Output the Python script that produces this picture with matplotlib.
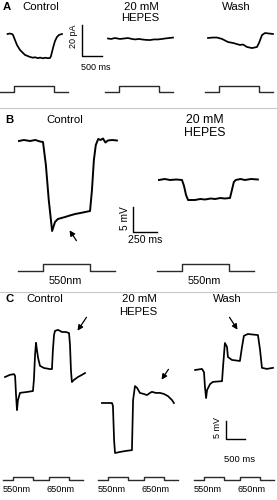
import numpy as np
import matplotlib.pyplot as plt

plt.rcParams['font.family'] = ['Liberation Sans', 'DejaVu Sans']

W, H = 277, 500  # canvas size in px

# ---- A: light-evoked current (pA), time in ms from light onset
a_t_ctrl = [-160, -110, -50, -25, 25, 75, 150, 275, 400, 475, 525, 600, 650, 725, 775, 850, 900, 925, 975, 1025, 1075, 1125, 1200]
a_i_ctrl = [0, 0.3, 0, -0.6, -3.9, -7.1, -10.3, -13.5, -14.8, -15.3, -15.0, -15.6, -15.2, -15.7, -15.3, -15.6, -15.5, -14.2, -9.0, -4.5, -1.9, -0.6, 0]
a_t_hep = [-275, -200, -100, 25, 125, 225, 325, 400, 500, 575, 675, 775, 875, 975, 1075, 1150, 1250, 1350]
a_i_hep = [0, -0.3, 0.3, -0.3, 0, 0.3, -0.3, -0.6, -0.3, -0.6, -0.9, -1.0, -0.6, -0.6, -0.3, 0, 0.3, 0.6]
a_t_wash = [-275, -150, -50, 75, 225, 350, 525, 600, 700, 825, 950, 1000, 1075, 1150, 1250, 1350]
a_i_wash = [0, 0.3, 0.3, -0.6, -2.6, -3.2, -4.5, -4.2, -5.8, -6.5, -5.8, -3.2, 1.9, 3.2, 2.9, 2.6]
a_stim_t = [-350, 0, 0, 1000, 1000, 1350]
a_stim_on = [0, 0, 1, 1, 0, 0]

# ---- B: light response (mV), 550 nm step
b_t_ctrl = [-250, -200, -135, -80, -30, 0, 30, 60, 95, 125, 155, 230, 280, 335, 390, 440, 490, 510, 530, 550, 575, 600, 625, 650, 675, 720, 770]
b_v_ctrl = [0, 0.2, 0, 0.2, -0.1, -0.2, -4.8, -11.8, -18.0, -16.2, -15.6, -15.2, -14.9, -14.6, -14.4, -14.2, -14.0, -9.8, -3.8, -0.8, 0.4, 0.2, 0.5, -0.3, 0.1, 0.2, 0.1]
b_t_hep = [-240, -180, -125, -60, 0, 21, 42, 63, 135, 190, 240, 300, 345, 400, 445, 500, 520, 540, 560, 610, 655, 720, 790]
b_v_hep = [0, 0.2, 0, 0.1, 0, -1.2, -3.0, -4.0, -4.0, -3.8, -3.9, -3.7, -3.8, -3.6, -3.7, -3.6, -2.0, -0.4, 0, 0.2, 0, 0.2, 0.1]
b_stim_t = [-260, 0, 0, 490, 490, 750]
b_stim_on = [0, 0, 1, 1, 0, 0]

# ---- C: 550 nm then 650 nm pulses (mV)
c_t_ctrl = [-210, -80, 25, 55, 80, 105, 130, 185, 340, 525, 550, 580, 605, 630, 660, 710, 815, 975, 1025,
            1050, 1080, 1105, 1185, 1290, 1395, 1475, 1500, 1525, 1550, 1605, 1710, 1815, 1895]
c_v_ctrl = [0, 0.6, 0.8, 0.3, -5.0, -9.2, -6.4, -4.4, -4.2, -3.9, -0.8, 6.1, 9.5, 7.5, 5.3, 3.1, 2.5, 2.2, 2.2,
            7.5, 11.7, 12.8, 13.1, 12.5, 12.5, 12.2, 8.9, 1.9, -1.4, -0.8, 0, 0.6, 1.1]
c_t_hep = [-160, -25, 105, 130, 160, 185, 315, 475, 630, 660, 710, 765, 840, 945, 1025, 1105, 1155, 1260,
           1370, 1475, 1580, 1685, 1735]
c_v_hep = [0, 0, 0, -0.8, -10.3, -13.9, -13.6, -13.3, -13.1, 0.8, 4.7, 4.2, 2.8, 2.5, 2.2, 2.8, 3.1, 2.8,
           2.8, 2.5, 1.9, 0.8, 0]
c_t_wash = [-235, -55, 0, 25, 55, 80, 160, 235, 475, 500, 550, 605, 630, 735, 945, 1000, 1050, 1155, 1420,
            1475, 1525, 1655, 1815]
c_v_wash = [0, 0.3, -0.6, -4.7, -7.8, -5.6, -3.9, -3.3, -3.1, 0.8, 7.5, 6.4, 3.6, 2.8, 2.5, 6.4, 9.5, 10.0, 9.7,
            5.6, 0.6, 0.3, 0.6]
c_stim_t = [-265, 0, 0, 525, 525, 950, 950, 1475, 1475, 1840]
c_stim_on = [0, 0, 1, 1, 0, 0, 1, 1, 0, 0]
c_pulse_names = ['550nm', '650nm']
c_pulse_mid = [100, 1250]

fig = plt.figure(figsize=(W / 100, H / 100), dpi=100)

# overlay in pixel coordinates for labels, separators and arrows
lay = fig.add_axes([0, 0, 1, 1])
lay.set_xlim(0, W)
lay.set_ylim(H, 0)
lay.axis('off')


def row_axes(ms_per_px, unit_per_px):
    ax = fig.add_axes([0, 0, 1, 1])
    ax.set_xlim(0, W * ms_per_px)
    ax.set_ylim(0, H * unit_per_px)
    ax.axis('off')
    ax.patch.set_alpha(0)
    ax.mspp, ax.upp = ms_per_px, unit_per_px
    return ax


def trace(ax, x0, y0, t, v, lw=1.25):
    ax.plot(np.asarray(t) + x0 * ax.mspp, np.asarray(v) + (H - y0) * ax.upp,
            color='black', lw=lw, solid_joinstyle='round')


def stim(ax, x0, y0, h, t, on):
    ax.plot(np.asarray(t) + x0 * ax.mspp, (H - y0) * ax.upp + np.asarray(on) * h * ax.upp,
            color='#2a2a2a', lw=1.0)


def scalebar(ax, x0, y0, dt, dv):
    bx, by = x0 * ax.mspp, (H - y0) * ax.upp
    ax.plot([bx, bx, bx + dt], [by + dv, by, by], color='black', lw=1.0)


txt = dict(ha='center', va='center', color='black')
big = 8.2
arrow = dict(arrowstyle='-|>', color='black', lw=0.9, mutation_scale=8)

# ---------- A
axA = row_axes(500 / 20, 20 / 31)
for x0, y0, t, v in [(14, 34, a_t_ctrl, a_i_ctrl), (119, 38.5, a_t_hep, a_i_hep), (219, 38, a_t_wash, a_i_wash)]:
    trace(axA, x0, y0, t, v)
    stim(axA, x0, 92, 6, a_stim_t, a_stim_on)
scalebar(axA, 82, 56, 500, 20)
lay.text(3, 7, 'A', fontsize=big, fontweight='bold', ha='left', va='center')
lay.text(41, 7, 'Control', fontsize=big, **txt)
lay.text(141, 7, '20 mM', fontsize=big, **txt)
lay.text(140, 18, 'HEPES', fontsize=big, **txt)
lay.text(236, 7, 'Wash', fontsize=big, **txt)
lay.text(73, 36, '20 pA', fontsize=6.5, rotation=90, **txt)
lay.text(81, 67, '500 ms', fontsize=6.5, ha='left', va='center')

lay.plot([0, W], [108, 108], color='#c8c8c8', lw=0.8)

# ---------- B
axB = row_axes(250 / 24, 5 / 25)
for x0, y0, t, v in [(43, 141, b_t_ctrl, b_v_ctrl), (182, 180, b_t_hep, b_v_hep)]:
    trace(axB, x0, y0, t, v, lw=1.4)
    stim(axB, x0, 271, 7, b_stim_t, b_stim_on)
    axB.text(x0 * axB.mspp + 230, (H - 281) * axB.upp, '550nm', fontsize=7.8, **txt)
scalebar(axB, 133, 232, 250, 5)
lay.text(5, 120, 'B', fontsize=big, fontweight='bold', ha='left', va='center')
lay.text(65, 120, 'Control', fontsize=8.2, **txt)
lay.text(205, 120, '20 mM', fontsize=8.8, **txt)
lay.text(205, 133, 'HEPES', fontsize=8.8, **txt)
lay.text(125, 218, '5 mV', fontsize=7.3, rotation=90, **txt)
lay.text(145, 240, '250 ms', fontsize=7.6, **txt)
lay.annotate('', xy=(68, 228), xytext=(78, 243), arrowprops=arrow)

lay.plot([0, W], [292, 292], color='#c8c8c8', lw=0.8)

# ---------- C
axC = row_axes(500 / 19, 5 / 18)
for x0, y0, t, v in [(13, 377, c_t_ctrl, c_v_ctrl), (108, 403, c_t_hep, c_v_hep), (204, 370, c_t_wash, c_v_wash)]:
    trace(axC, x0, y0, t, v)
    stim(axC, x0, 480, 3, c_stim_t, c_stim_on)
    for name, mid in zip(c_pulse_names, c_pulse_mid):
        axC.text(x0 * axC.mspp + mid, (H - 490) * axC.upp, name, fontsize=6.6, **txt)
scalebar(axC, 226, 439, 500, 5)
lay.text(5, 299, 'C', fontsize=big, fontweight='bold', ha='left', va='center')
lay.text(45, 299, 'Control', fontsize=big, **txt)
lay.text(139, 299, '20 mM', fontsize=big, **txt)
lay.text(138, 312, 'HEPES', fontsize=big, **txt)
lay.text(227, 299, 'Wash', fontsize=big, **txt)
lay.text(217, 428, '5 mV', fontsize=6.5, rotation=90, **txt)
lay.text(240, 460, '500 ms', fontsize=6.8, **txt)
for tip, tail in [((76, 333), (88, 315)), ((160, 382), (170, 367)), ((239, 332), (228, 315))]:
    lay.annotate('', xy=tip, xytext=tail, arrowprops=arrow)

fig.savefig('out.png', dpi=100)
